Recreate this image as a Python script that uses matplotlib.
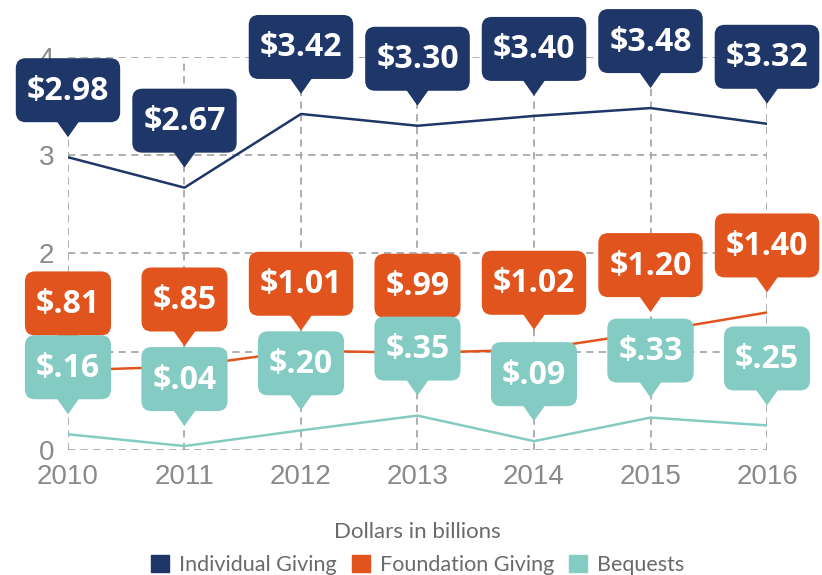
import matplotlib.pyplot as plt
from matplotlib.patches import FancyBboxPatch, Polygon, Patch
from matplotlib.transforms import IdentityTransform

# ----------------------------------------------------------
# Data (dollars in billions)
# ----------------------------------------------------------
years = [2010, 2011, 2012, 2013, 2014, 2015, 2016]
individual = [2.98, 2.67, 3.42, 3.30, 3.40, 3.48, 3.32]
foundation = [0.81, 0.85, 1.01, 0.99, 1.02, 1.20, 1.40]
bequests = [0.16, 0.04, 0.20, 0.35, 0.09, 0.33, 0.25]

individual_labels = ["$2.98", "$2.67", "$3.42", "$3.30", "$3.40", "$3.48", "$3.32"]
foundation_labels = ["$.81", "$.85", "$1.01", "$.99", "$1.02", "$1.20", "$1.40"]
bequest_labels = ["$.16", "$.04", "$.20", "$.35", "$.09", "$.33", "$.25"]

NAVY = "#1f3668"
ORANGE = "#e2541e"
TEAL = "#84cbc3"

fig = plt.figure(figsize=(8.22, 5.75), dpi=100)
ax = fig.add_axes([0.0827, 0.2174, 0.8504, 0.6835])

ax.plot(years, individual, color=NAVY, lw=1.8, zorder=3)
ax.plot(years, foundation, color=ORANGE, lw=1.8, zorder=3)
ax.plot(years, bequests, color=TEAL, lw=1.8, zorder=3)

ax.set_xlim(2010, 2016)
ax.set_ylim(0, 4)
ax.set_xticks(years)
ax.set_yticks([0, 1, 2, 3, 4])
ax.tick_params(length=0, labelsize=20, labelcolor="#8a8a8a", pad=10)
for lbl in ax.get_xticklabels() + ax.get_yticklabels():
    lbl.set_family("Liberation Sans")

for s in ax.spines.values():
    s.set_visible(False)
ax.grid(True, color="#a8a8a8", lw=1.3, ls=(0, (4, 3)))
ax.set_axisbelow(True)


# ----------------------------------------------------------
# Callout boxes with a pointer
# ----------------------------------------------------------
renderer = fig.canvas.get_renderer()


def callout(x, y, label, color, z):
    tx, ty = ax.transData.transform((x, y))
    ty = ty + 20
    ptr_h = 15
    box_h = 64
    t = fig.text(tx, ty + ptr_h + box_h / 2 - 1, label, transform=IdentityTransform(),
                 ha="center", va="center", color="white", fontsize=23,
                 fontweight="bold", family="Open Sans", zorder=z + 0.2)
    w = t.get_window_extent(renderer).width + 22
    box = FancyBboxPatch((tx - w / 2, ty + ptr_h), w, box_h,
                         boxstyle="round,pad=0,rounding_size=10",
                         transform=IdentityTransform(), fc=color, ec="none",
                         zorder=z)
    ptr = Polygon([(tx - 12, ty + ptr_h + 2), (tx + 12, ty + ptr_h + 2), (tx, ty)],
                  closed=True, transform=IdentityTransform(), fc=color, ec="none",
                  zorder=z)
    fig.add_artist(box)
    fig.add_artist(ptr)


for i in range(len(years)):
    callout(years[i], individual[i], individual_labels[i], NAVY, 5)
for i in range(len(years)):
    callout(years[i], foundation[i], foundation_labels[i], ORANGE, 6)
for i in range(len(years)):
    callout(years[i], bequests[i], bequest_labels[i], TEAL, 7)

# ----------------------------------------------------------
# Caption and legend
# ----------------------------------------------------------
fig.text(0.508, 0.075, "Dollars in billions", ha="center", va="center",
         fontsize=16, color="#6a6a6a", family="Lato")

handles = [Patch(color=NAVY, label="Individual Giving"),
           Patch(color=ORANGE, label="Foundation Giving"),
           Patch(color=TEAL, label="Bequests")]
leg = fig.legend(handles=handles, loc="center", bbox_to_anchor=(0.508, 0.018),
                 ncol=3, frameon=False, handlelength=0.85, handleheight=0.85,
                 handletextpad=0.45, columnspacing=0.7,
                 prop={"family": "Lato", "size": 15.5})
for txt in leg.get_texts():
    txt.set_color("#6a6a6a")

fig.savefig("out.png", dpi=100)
